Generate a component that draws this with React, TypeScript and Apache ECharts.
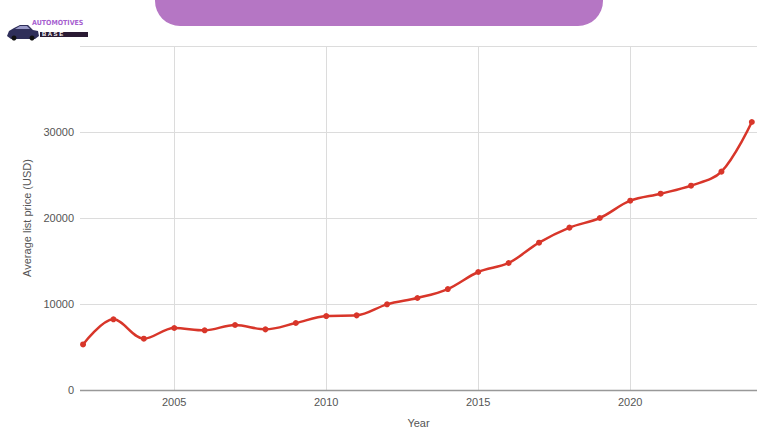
import React, { useEffect, useRef } from "react";
import * as echarts from "echarts";

const years = [2002, 2003, 2004, 2005, 2006, 2007, 2008, 2009, 2010, 2011, 2012, 2013, 2014, 2015, 2016, 2017, 2018, 2019, 2020, 2021, 2022, 2023, 2024];
const prices = [5300, 8220, 5970, 7210, 6940, 7560, 7050, 7790, 8600, 8680, 9960, 10700, 11740, 13720, 14770, 17130, 18880, 20000, 22010, 22830, 23760, 25390, 31160];
const xTicks = [2005, 2010, 2015, 2020];
const yTicks = [0, 10000, 20000, 30000];

export default function App() {
  const ref = useRef<HTMLDivElement>(null);
  useEffect(() => {
    if (!ref.current) return;
    const chart = echarts.init(ref.current, null, { renderer: "svg" });
    const font = "'Liberation Sans', Arial, sans-serif";
    chart.setOption({
      animation: false,
      backgroundColor: "#ffffff",
      grid: { left: 80, right: 23, top: 46, bottom: 50, containLabel: false },
      xAxis: {
        type: "value",
        min: 2001.9,
        max: 2024.17,
        name: "Year",
        nameLocation: "middle",
        nameGap: 27,
        nameTextStyle: { color: "#555", fontSize: 11, fontFamily: font },
        axisLine: { show: false },
        axisTick: { show: false, customValues: xTicks },
        axisLabel: {
          customValues: xTicks,
          color: "#555",
          fontSize: 11,
          fontFamily: font,
          margin: 6,
          formatter: (v: number) => String(v),
        },
        splitLine: { show: true, lineStyle: { color: "#dcdcdc", width: 1 } },
      },
      yAxis: {
        type: "value",
        min: 0,
        max: 40000,
        interval: 10000,
        name: "Average list price (USD)",
        nameLocation: "middle",
        nameGap: 45,
        nameTextStyle: { color: "#555", fontSize: 11, fontFamily: font },
        axisLine: { show: false },
        axisTick: { show: false },
        axisLabel: {
          color: "#555",
          fontSize: 11,
          fontFamily: font,
          margin: 6,
          formatter: (v: number) => (yTicks.includes(v) ? String(v) : ""),
        },
        splitLine: { show: true, lineStyle: { color: "#dcdcdc", width: 1 } },
      },
      series: [
        {
          type: "line",
          data: years.map((y, i) => [y, prices[i]]),
          smooth: 0.35,
          symbol: "circle",
          symbolSize: 6,
          lineStyle: { color: "#d8362a", width: 2.5 },
          itemStyle: { color: "#d8362a" },
          markLine: {
            silent: true,
            symbol: "none",
            label: { show: false },
            lineStyle: { color: "#999999", width: 1.3, type: "solid" },
            data: [{ yAxis: 0 }],
          },
          z: 3,
        },
      ],
      graphic: [
        {
          type: "rect",
          shape: { x: 155, y: -30, width: 448, height: 56, r: [0, 0, 25, 25] },
          style: { fill: "#b576c4" },
        },
        {
          type: "polygon",
          shape: {
            points: [
              [7, 36], [9, 31], [14, 28], [20, 25], [28, 25], [33, 30], [38, 31], [39, 36], [35, 39], [11, 39],
            ],
          },
          style: { fill: "#2f2f5a" },
        },
        {
          type: "polygon",
          shape: { points: [[15, 29], [20, 26], [27, 26], [30, 29]] },
          style: { fill: "#9a9ac8" },
        },
        { type: "circle", shape: { cx: 14, cy: 38, r: 2.5 }, style: { fill: "#111" } },
        { type: "circle", shape: { cx: 32, cy: 38, r: 2.5 }, style: { fill: "#111" } },
        {
          type: "text",
          x: 32,
          y: 19,
          style: {
            text: "AUTOMOTIVES",
            fill: "#a75fd0",
            font: "bold 7px 'Liberation Sans Narrow', 'DejaVu Sans Condensed', sans-serif",
          },
        },
        {
          type: "rect",
          shape: { x: 40, y: 32, width: 48, height: 5 },
          style: { fill: "#2a1a33" },
        },
        {
          type: "text",
          x: 42,
          y: 31,
          style: {
            text: "B A S E",
            fill: "#ffffff",
            font: "bold 6px 'Liberation Sans', sans-serif",
          },
        },
      ],
    });
    return () => chart.dispose();
  }, []);
  return <div ref={ref} style={{ width: 780, height: 440, position: "absolute", left: 0, top: 0 }} />;
}
